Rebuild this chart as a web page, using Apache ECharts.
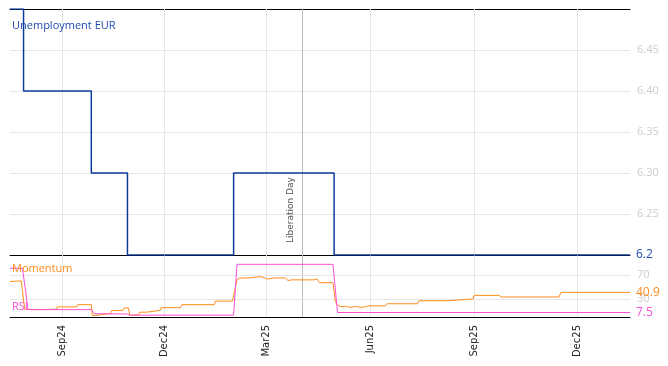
<!DOCTYPE html>
<html>
<head>
<meta charset="utf-8">
<script src="https://cdn.jsdelivr.net/npm/echarts@6/dist/echarts.min.js"></script>
<style>
  html, body { margin: 0; padding: 0; background: #fff; }
  #main { width: 668px; height: 366px; }
</style>
</head>
<body>
<div id="main"></div>
<script>
// range and ticks
var startDate = '2024-07-17';
var endDate = '2026-01-17';
var tickDates = ['2024-09-01', '2024-12-01', '2025-03-01', '2025-06-01', '2025-09-01', '2025-12-01'];
var monthNames = ['Jan', 'Feb', 'Mar', 'Apr', 'May', 'Jun', 'Jul', 'Aug', 'Sep', 'Oct', 'Nov', 'Dec'];
var eventDate = '2025-04-02';
var eventName = 'Liberation Day';

// unemployment (step)
var unempDates = ['2024-07-17', '2024-07-29', '2024-09-27', '2024-10-29', '2025-01-31', '2025-04-30', '2026-01-17'];
var unempValues = [6.5, 6.4, 6.3, 6.2, 6.3, 6.2, 6.2];

// momentum
var momDates = ['2024-07-17', '2024-07-27', '2024-07-28', '2024-07-30', '2024-08-06', '2024-08-15', '2024-08-16',
  '2024-08-18', '2024-08-27', '2024-08-28', '2024-09-14', '2024-09-15', '2024-09-27', '2024-09-28', '2024-10-03',
  '2024-10-04', '2024-10-14', '2024-10-15', '2024-10-25', '2024-10-26', '2024-10-30', '2024-10-31', '2024-11-08',
  '2024-11-09', '2024-11-15', '2024-11-16', '2024-11-27', '2024-11-28', '2024-12-15', '2024-12-16', '2025-01-14',
  '2025-01-15', '2025-01-30', '2025-02-03', '2025-02-05', '2025-02-14', '2025-02-15', '2025-02-23', '2025-02-26',
  '2025-03-02', '2025-03-08', '2025-03-18', '2025-03-20', '2025-03-23', '2025-04-12', '2025-04-13', '2025-04-15',
  '2025-04-17', '2025-04-29', '2025-05-01', '2025-05-03', '2025-05-06', '2025-05-10', '2025-05-14', '2025-05-19',
  '2025-05-24', '2025-05-28', '2025-05-30', '2025-06-14', '2025-06-16', '2025-07-13', '2025-07-14', '2025-08-09',
  '2025-08-10', '2025-08-31', '2025-09-01', '2025-09-23', '2025-09-25', '2025-11-15', '2025-11-17', '2026-01-17'];
var momValues = [59, 60, 61.5, 13, 12.3, 12.3, 15.5,
  12.5, 13, 16.7, 16.7, 20.5, 20.5, 2.5, 3,
  5.8, 5.8, 10.7, 10.7, 15, 15, 2.5, 4,
  8, 8, 11, 11, 15.5, 15.5, 20.5, 20.5,
  26.5, 26.5, 61.7, 64.5, 65, 67, 67, 66,
  63, 64.8, 64.8, 60.5, 61.7, 61.7, 63, 63,
  57, 57, 26, 20, 17, 18, 16, 17.5,
  16, 17, 18.5, 18.5, 22, 22, 27, 27,
  30, 30, 35.9, 35.9, 33.2, 33.2, 40.9, 40.9];

// rsi
var rsiDates = ['2024-07-17', '2024-07-28', '2024-08-02', '2024-09-27', '2024-09-30', '2024-10-29', '2024-11-01',
  '2025-01-31', '2025-02-03', '2025-04-29', '2025-05-03', '2026-01-17'];
var rsiValues = [81, 81, 12.3, 12.3, 5.5, 5, 3, 3, 87.5, 87.5, 7.5, 7.5];
var rsiLevels = [30, 70];

function toTime(s) {
  var p = s.split('-');
  return new Date(+p[0], +p[1] - 1, +p[2]).getTime();
}
function pairs(d, v) {
  return d.map(function (x, i) { return [toTime(x), v[i]]; });
}

var tickTimes = tickDates.map(toTime);
var gridColor = '#e6e6e6';

function vLines(withLabel) {
  var arr = tickTimes.map(function (t) { return { xAxis: t }; });
  arr.push({
    xAxis: toTime(eventDate),
    lineStyle: { color: '#bdbdbd' },
    label: withLabel ? {
      show: true, formatter: eventName, position: 'insideStartTop', distance: [12, 7],
      color: '#555', fontSize: 9, fontFamily: 'DejaVu Sans'
    } : { show: false }
  });
  return arr;
}

var chart = echarts.init(document.getElementById('main'));

var xBase = {
  type: 'value',
  min: toTime(startDate),
  max: toTime(endDate),
  splitLine: { show: false }
};

chart.setOption({
  animation: false,
  title: [
    { text: 'Unemployment EUR', left: 12, top: 20, padding: 0,
      textStyle: { color: '#1f4bb0', fontSize: 11, fontWeight: 'normal', fontFamily: 'Open Sans' } },
    { text: 'Momentum', left: 12, top: 263, padding: 0,
      textStyle: { color: '#ff8c1a', fontSize: 11, fontWeight: 'normal', fontFamily: 'Open Sans' } },
    { text: 'RSI', left: 12, top: 301, padding: 0,
      textStyle: { color: '#ff4fd8', fontSize: 11, fontWeight: 'normal', fontFamily: 'Open Sans' } }
  ],
  grid: [
    { left: 10, right: 38, top: 9, height: 246 },
    { left: 10, right: 38, top: 255, height: 62 }
  ],
  xAxis: [
    Object.assign({}, xBase, {
      gridIndex: 0, position: 'bottom',
      axisLine: { lineStyle: { color: '#000', width: 1 } },
      axisTick: { show: true, inside: true, length: 4, customValues: tickTimes, lineStyle: { color: '#000' } },
      axisLabel: { show: false }
    }),
    Object.assign({}, xBase, {
      gridIndex: 0, position: 'top',
      axisLine: { lineStyle: { color: '#000', width: 1 } },
      axisTick: { show: false },
      axisLabel: { show: false }
    }),
    Object.assign({}, xBase, {
      gridIndex: 1, position: 'bottom',
      axisLine: { lineStyle: { color: '#000', width: 1 } },
      axisTick: { show: true, inside: true, length: 4, customValues: tickTimes, lineStyle: { color: '#000' } },
      axisLabel: {
        customValues: tickTimes, rotate: 90, margin: 8, color: '#222', fontSize: 10, fontFamily: 'DejaVu Sans',
        formatter: function (v) {
          var d = new Date(v);
          return monthNames[d.getMonth()] + String(d.getFullYear()).slice(2);
        }
      }
    })
  ],
  yAxis: [
    {
      gridIndex: 0, type: 'value', position: 'right', min: 6.2, max: 6.5, interval: 0.05,
      axisLine: { show: false }, axisTick: { show: false },
      splitLine: { lineStyle: { color: gridColor } },
      axisLabel: {
        showMinLabel: false, showMaxLabel: false, margin: 7,
        color: '#cccccc', fontSize: 11, fontFamily: 'Open Sans',
        formatter: function (v) { return v.toFixed(2); }
      }
    },
    {
      gridIndex: 1, type: 'value', position: 'right', min: 0, max: 103,
      axisLine: { show: false }, axisTick: { show: false },
      splitLine: { show: false }, axisLabel: { show: false }
    }
  ],
  series: [
    {
      name: 'Unemployment EUR', type: 'line', xAxisIndex: 0, yAxisIndex: 0, step: 'end',
      showSymbol: false, symbol: 'none', z: 3,
      lineStyle: { color: '#0b3c9c', width: 1.5 },
      data: pairs(unempDates, unempValues),
      endLabel: {
        show: true, distance: 6, color: '#1f4bb0', fontSize: 12, fontFamily: 'Open Sans',
        formatter: function (p) { return String(p.value[1]); }
      },
      markLine: {
        silent: true, symbol: 'none', z: 1, animation: false,
        lineStyle: { color: gridColor, type: 'solid', width: 1 },
        label: { show: false },
        data: vLines(true)
      }
    },
    {
      name: 'Momentum', type: 'line', xAxisIndex: 2, yAxisIndex: 1,
      showSymbol: false, symbol: 'none', z: 3,
      lineStyle: { color: '#ff8c1a', width: 1 },
      data: pairs(momDates, momValues),
      endLabel: {
        show: true, distance: 6, color: '#ff8c1a', fontSize: 12, fontFamily: 'Open Sans',
        formatter: function (p) { return String(p.value[1]); }
      }
    },
    {
      name: 'RSI', type: 'line', xAxisIndex: 2, yAxisIndex: 1,
      showSymbol: false, symbol: 'none', z: 4,
      lineStyle: { color: '#ff4fd8', width: 1 },
      data: pairs(rsiDates, rsiValues),
      endLabel: {
        show: true, distance: 6, color: '#ff4fd8', fontSize: 12, fontFamily: 'Open Sans',
        formatter: function (p) { return String(p.value[1]); }
      },
      markLine: {
        silent: true, symbol: 'none', z: 1, animation: false,
        lineStyle: { color: gridColor, type: 'solid', width: 1 },
        label: { show: false },
        data: vLines(false).concat(rsiLevels.map(function (v) {
          return {
            yAxis: v,
            label: { show: true, position: 'end', distance: 7, color: '#cccccc', fontSize: 11,
              fontFamily: 'Open Sans', formatter: String(v) }
          };
        }))
      }
    }
  ]
});
</script>
</body>
</html>
